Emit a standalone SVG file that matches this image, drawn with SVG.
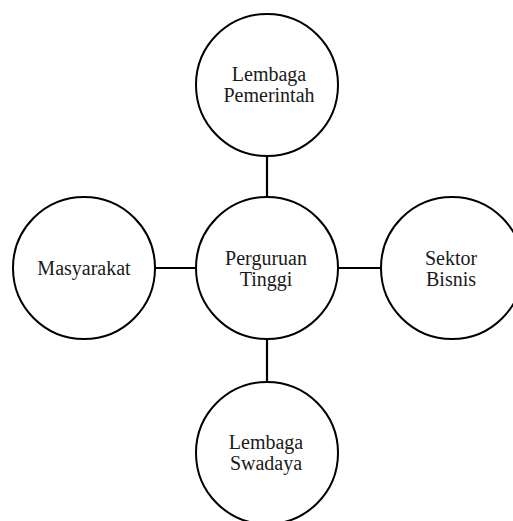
<svg xmlns="http://www.w3.org/2000/svg" width="513" height="521" viewBox="0 0 513 521">
<style>
.n{fill:#fff;stroke:#000;stroke-width:2}
.c{stroke:#000;stroke-width:2.2;fill:none}
text{font-family:"Liberation Serif","Times New Roman",serif;font-size:20px;fill:#1a1a1a;text-anchor:middle}
</style>
<rect width="513" height="521" fill="#fff"/>
<g id="connectors">
<line class="c" x1="267" y1="156" x2="267" y2="197"/>
<line class="c" x1="267" y1="339" x2="267" y2="382"/>
<line class="c" x1="155" y1="268" x2="196" y2="268"/>
<line class="c" x1="338" y1="268" x2="381" y2="268"/>
</g>
<g id="lembaga-pemerintah">
<circle class="n" cx="267" cy="85" r="71"/>
<text x="269" y="81">Lembaga</text>
<text x="269" y="102">Pemerintah</text>
</g>
<g id="perguruan-tinggi">
<circle class="n" cx="267" cy="268" r="71"/>
<text x="266" y="265">Perguruan</text>
<text x="266" y="286">Tinggi</text>
</g>
<g id="masyarakat">
<circle class="n" cx="84" cy="268" r="71"/>
<text x="84" y="275">Masyarakat</text>
</g>
<g id="sektor-bisnis">
<circle class="n" cx="452" cy="268" r="71"/>
<text x="451" y="265">Sektor</text>
<text x="451" y="286">Bisnis</text>
</g>
<g id="lembaga-swadaya">
<circle class="n" cx="267" cy="453" r="71"/>
<text x="266" y="449">Lembaga</text>
<text x="266" y="470">Swadaya</text>
</g>
</svg>
